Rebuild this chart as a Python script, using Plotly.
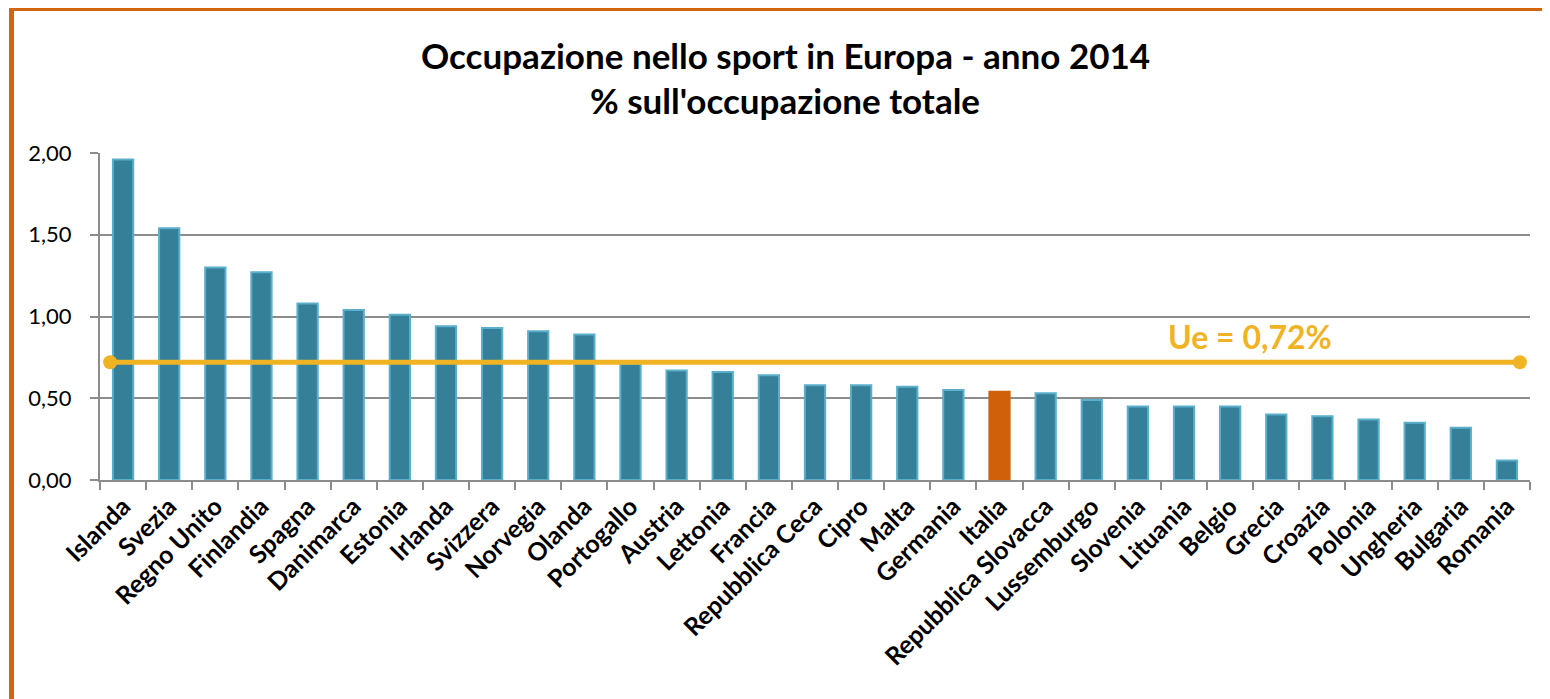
import plotly.graph_objects as go

countries = ["Islanda", "Svezia", "Regno Unito", "Finlandia", "Spagna", "Danimarca",
             "Estonia", "Irlanda", "Svizzera", "Norvegia", "Olanda", "Portogallo",
             "Austria", "Lettonia", "Francia", "Repubblica Ceca", "Cipro", "Malta",
             "Germania", "Italia", "Repubblica Slovacca", "Lussemburgo", "Slovenia",
             "Lituania", "Belgio", "Grecia", "Croazia", "Polonia", "Ungheria",
             "Bulgaria", "Romania"]
values = [1.96, 1.54, 1.30, 1.27, 1.08, 1.04, 1.01, 0.94, 0.93, 0.91, 0.89, 0.71,
          0.67, 0.66, 0.64, 0.58, 0.58, 0.57, 0.55, 0.54, 0.53, 0.49, 0.45, 0.45,
          0.45, 0.40, 0.39, 0.37, 0.35, 0.32, 0.12]
ue_value = 0.72
ue_label = "Ue = 0,72%"
highlight = "Italia"
yticks = [0, 0.5, 1.0, 1.5, 2.0]

BLUE = "#367F99"
BLUE_EDGE = "#5AAFCB"
ORANGE = "#D0600A"
GOLD = "#F0B323"
GRID = "#8C8C8C"
FONT = "Lato"

fill = [ORANGE if c == highlight else BLUE for c in countries]
edge = [ORANGE if c == highlight else BLUE_EDGE for c in countries]

fig = go.Figure()
fig.add_trace(go.Bar(
    x=countries, y=values,
    marker=dict(color=fill, line=dict(color=edge, width=2)),
    width=0.44, showlegend=False, hoverinfo="x+y",
))

n = len(countries)
fig.add_trace(go.Scatter(
    x=[-0.28, n - 1 + 0.28], y=[ue_value, ue_value],
    xaxis="x2", mode="lines+markers",
    line=dict(color=GOLD, width=5),
    marker=dict(color=GOLD, size=14),
    showlegend=False, hoverinfo="y",
))

OFF = 8  # page body margin
W, H = 1550, 699
L = 100 - OFF
T = 153 - OFF
R = W - (1530 - OFF)
B = H - (480 - OFF)
pw, ph = W - L - R, H - T - B

def px_x(x):
    return (x - OFF - L) / pw

def px_y(y):
    return (H - B - (y - OFF)) / ph

fig.update_layout(
    width=W, height=H,
    margin=dict(l=L, r=R, t=T, b=B, autoexpand=False),
    paper_bgcolor="white", plot_bgcolor="white",
    separators=",.",
    font=dict(family=FONT, color="black"),
    xaxis=dict(
        type="category", tickangle=-45, tickson="boundaries",
        ticks="outside", ticklen=8, tickcolor=GRID, tickwidth=2,
        showline=True, linecolor=GRID, linewidth=2,
        showgrid=False, automargin=False,
        tickfont=dict(family=FONT, size=25, color="black", weight="bold"),
        range=[-0.5, n - 0.5],
    ),
    xaxis2=dict(
        overlaying="x", range=[-0.5, n - 0.5], visible=False,
        showgrid=False, zeroline=False,
    ),
    yaxis=dict(
        range=[0, 2], tickvals=yticks, tickformat=".2f",
        showgrid=True, gridcolor=GRID, gridwidth=2,
        showline=True, linecolor=GRID, linewidth=2,
        ticks="outside", ticklen=8, tickcolor=GRID, tickwidth=2,
        zeroline=False, automargin=False, ticklabelstandoff=14,
        tickfont=dict(family=FONT, size=22, color="black"),
    ),
    bargap=0.56,
)

fig.add_annotation(
    text="Occupazione nello sport in Europa - anno 2014",
    xref="paper", yref="paper", x=px_x(785), y=px_y(55),
    showarrow=False, font=dict(family=FONT, size=35, color="black", weight="bold"),
    xanchor="center", yanchor="middle",
)
fig.add_annotation(
    text="% sull'occupazione totale",
    xref="paper", yref="paper", x=px_x(785), y=px_y(100),
    showarrow=False, font=dict(family=FONT, size=35, color="black", weight="bold"),
    xanchor="center", yanchor="middle",
)
fig.add_annotation(
    text=ue_label,
    xref="paper", yref="paper", x=px_x(1250), y=px_y(336),
    showarrow=False, font=dict(family=FONT, size=32, color=GOLD, weight="bold"),
    xanchor="center", yanchor="middle",
)

fig.add_shape(type="line", xref="paper", yref="paper",
              x0=px_x(11.5), x1=px_x(11.5), y0=px_y(8.5), y1=px_y(720),
              line=dict(color="#D4650E", width=5))
fig.add_shape(type="line", xref="paper", yref="paper",
              x0=px_x(9), x1=px_x(1570), y0=px_y(8.5), y1=px_y(8.5),
              line=dict(color="#D4650E", width=5))

fig.write_html("out.html")
